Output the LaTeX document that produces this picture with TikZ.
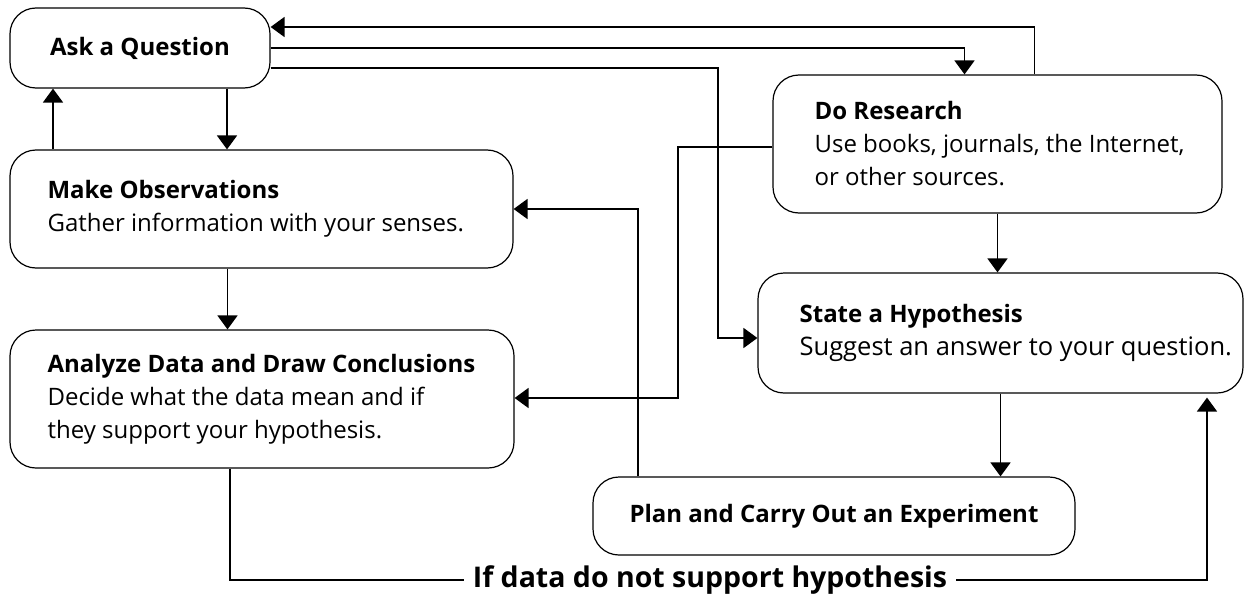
\documentclass[tikz,border=0pt]{standalone}
\usepackage{fontspec}
\setmainfont{Open Sans}
\usetikzlibrary{arrows.meta}

\begin{document}
\begin{tikzpicture}[x=1pt,y=1pt,yscale=-1,xscale=1,
  box/.style={draw,line width=1.2pt,rounded corners=26pt,inner sep=0pt},
  txt/.style={align=left,inner sep=0pt,font=\fontsize{24}{33}\selectfont},
  flow/.style={line width=1.8pt,-{Triangle[length=14pt,width=20pt]}},
  link/.style={line width=1.8pt}]
\useasboundingbox (0,0) rectangle (1246,599);

% boxes
\node [box,minimum width=260pt,minimum height=80pt,font=\fontsize{24}{33}\selectfont\bfseries] (ask) at (140,48) {Ask a Question};
\node [box,minimum width=503pt,minimum height=118pt] (obs) at (261.5,209) {};
\node [box,minimum width=504pt,minimum height=138pt] (ana) at (262,399) {};
\node [box,minimum width=449pt,minimum height=138pt] (res) at (997.5,144) {};
\node [box,minimum width=485pt,minimum height=120pt] (hyp) at (1000.5,333) {};
\node [box,minimum width=482pt,minimum height=78pt,font=\fontsize{24}{33}\selectfont\bfseries] (plan) at (834,516) {Plan and Carry Out an Experiment};

\node [txt,anchor=west] (obs-t) at ([xshift=38pt]obs.west) {\textbf{Make Observations}\\Gather information with your senses.};
\node [txt,anchor=west] (ana-t) at ([xshift=38pt]ana.west) {\textbf{Analyze Data and Draw Conclusions}\\Decide what the data mean and if\\they support your hypothesis.};
\node [txt,anchor=west] (res-t) at ([xshift=42pt]res.west) {\textbf{Do Research}\\Use books, journals, the Internet,\\or other sources.};
\node [txt,anchor=west] (hyp-t) at ([xshift=42pt]hyp.west) {\textbf{State a Hypothesis}\\\fontsize{25.5}{34}\selectfont Suggest an answer to your question.};

\node [font=\fontsize{28.5}{32}\selectfont\bfseries,inner xsep=9pt,inner ysep=0pt] (nosup) at (710,580) {If data do not support hypothesis};

% bends
\coordinate (hbend) at (718,338);
\coordinate (abend) at (678,398);

% connectors
\draw [flow] (ask.east) -| ([xshift=-33pt]res.north);
\draw [flow] ([xshift=37pt]res.north) |- ([yshift=-21pt]ask.east);
\draw [flow] ([yshift=20pt]ask.east) -| (hbend) -- (hbend -| hyp.west);
\draw [flow] ([yshift=3pt]res.west) -| (abend) -- (abend -| ana.east);
\draw [flow] ([xshift=-196pt]plan.north) |- (obs.east);
\draw [flow] ([xshift=87pt]ask.south) -- ([xshift=87pt]ask.south |- obs.north);
\draw [flow] ([xshift=-87pt]ask.south |- obs.north) -- ([xshift=-87pt]ask.south);
\draw [flow] ([xshift=-34pt]obs.south) -- ([xshift=-34pt]obs.south |- ana.north);
\draw [flow] (res.south) -- (res.south |- hyp.north);
\draw [flow] (hyp.south) -- (hyp.south |- plan.north);
\draw [link] ([xshift=-32pt]ana.south) |- (nosup.west);
\draw [flow,shorten >=4pt] (nosup.east) -| ([xshift=206.5pt]hyp.south);
\end{tikzpicture}
\end{document}
